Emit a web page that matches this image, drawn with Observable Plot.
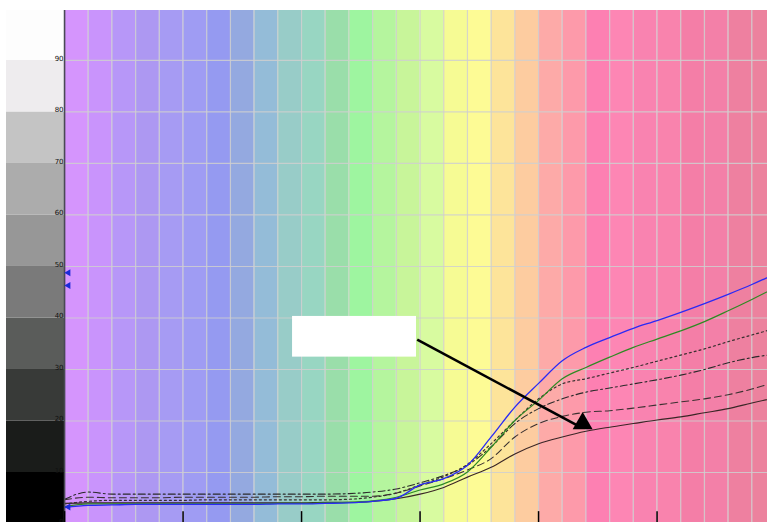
<!DOCTYPE html>
<html><head><meta charset="utf-8">
<script src="https://cdn.jsdelivr.net/npm/d3@7"></script>
<script src="https://cdn.jsdelivr.net/npm/@observablehq/plot@0.6"></script>
<style>html,body{margin:0;padding:0;background:#fff;}svg{display:block;}</style>
</head><body><div id="chart"></div>
<script>
// wavelengths (nm)
const wavelengths = [400,410,420,430,440,450,460,470,480,490,500,510,520,530,540,550,560,570,580,590,600,610,620,630,640,650,660,670,680,690,700];
// spectral band colours (one per 10 nm column)
const bandStarts = [400,410,420,430,440,450,460,470,480,490,500,510,520,530,540,550,560,570,580,590,600,610,620,630,640,650,660,670,680,690];
const bandColors = ["#d595fd","#c994fc","#b797f8","#ad98f2","#a69bf3","#9f9cf3","#959af1","#94a9e0","#94bcd8","#98ccc8","#98d6c2","#9adeaa","#9ef5a0","#b5f59e","#c8f59a","#d8fba0","#f6fb94","#fdfb95","#fde49a","#fdcca0","#fdaaa8","#fd9aaa","#fd80b2","#fd86b4","#f983b0","#f983ad","#f47ea7","#f380a8","#ee80a0","#ec829e"];
// grey reference scale
const greyLevels = [0,10,20,30,40,50,60,70,80,90];
const greyColors = ["#000000","#1a1c1a","#383a38","#5a5c5a","#7a7a7a","#979797","#acacac","#c4c4c4","#eeecee","#fdfdfd"];
// tick labels
const yTicks = [0,10,20,30,40,50,60,70,80,90];
const xTicks = [400,450,500,550,600,650];
// series (reflectance %)
const blue     = [3.2,3.6,3.7,3.8,3.8,3.8,3.8,3.8,3.8,3.9,3.9,4.0,4.1,4.4,5.0,7.6,8.8,11.4,16.9,22.7,27.3,31.7,34.3,36.2,38.0,39.5,41.1,42.8,44.6,46.5,48.6];
const green    = [3.4,3.9,3.9,3.9,3.9,3.9,3.9,3.9,3.9,4.0,4.0,4.1,4.2,4.5,5.2,6.6,7.8,10.1,14.9,20.1,24.0,28.2,30.4,32.4,34.3,35.9,37.5,39.3,41.4,43.6,45.9];
const dotted   = [3.9,4.4,4.6,4.6,4.6,4.6,4.7,4.7,4.7,4.7,4.7,4.7,4.8,5.2,6.0,7.6,9.2,11.6,15.6,20.1,24.3,27.2,28.2,29.3,30.4,31.6,32.8,34.0,35.4,36.7,38.0];
const dashDot  = [4.8,6.2,5.8,5.8,5.8,5.8,5.8,5.8,5.8,5.8,5.8,5.8,5.9,6.2,6.8,8.0,9.4,11.4,15.0,19.5,22.4,24.3,25.6,26.4,27.2,28.0,28.9,30.0,31.3,32.3,33.0];
const dashed   = [4.7,5.2,5.1,5.1,5.1,5.2,5.2,5.2,5.2,5.3,5.3,5.4,5.4,5.4,6.0,7.4,8.8,10.5,12.7,16.9,19.5,20.9,21.7,22.0,22.5,23.1,23.7,24.3,25.1,26.2,27.6];
const solid    = [4.0,4.1,4.1,4.1,4.1,4.1,4.1,4.1,4.1,4.1,4.1,4.2,4.2,4.4,4.9,5.8,7.1,9.1,11.0,13.6,15.6,16.9,18.0,18.8,19.5,20.2,20.8,21.6,22.4,23.5,24.5];
// annotation: empty label box and arrow
const labelBox = [{x1:496.2, x2:548.5, y1:32.4, y2:40.3}];
const arrowLine = [{x1:548.8, y1:35.8, x2:617.7, y2:18.8}];
const arrowHead = [{x:618.6, y:19.5}];
// blue markers on the left axis
const axisMarkers = [{x:401.6, y:48.8},{x:401.6, y:46.3},{x:401.6, y:3.3}];

const xMin = 375.5, xMax = 696.6, yMax = 99.7;
const bands = bandStarts.map((w,i)=>({x1:w, x2:w+10, fill:bandColors[i]}));
const greys = greyLevels.map((g,i)=>({y1:g, y2:Math.min(g+10,yMax), fill:greyColors[i]}));
const mk = arr => wavelengths.map((w,i)=>({w, v:arr[i]}));

const series = [
  {data: mk(solid),   stroke:"#3a2626", dash:null, width:1.1},
  {data: mk(dashed),  stroke:"#3a3030", dash:"7,4", width:1.1},
  {data: mk(dashDot), stroke:"#2a2a2a", dash:"7,3,2,3", width:1.1},
  {data: mk(dotted),  stroke:"#3a3030", dash:"2,3", width:1.2},
  {data: mk(green),   stroke:"#2e8a22", dash:null, width:1.2},
  {data: mk(blue),    stroke:"#2a2af5", dash:null, width:1.3},
];

const chart = Plot.plot({
  width: 767, height: 522,
  margin: 0,
  x: {domain:[xMin, xMax], range:[6, 767], axis:null},
  y: {domain:[0, yMax], range:[523.5, 10], axis:null},
  style: {fontFamily:"DejaVu Sans, sans-serif", background:"#fff"},
  marks: [
    Plot.rect(greys, {x1:()=>xMin, x2:()=>400, y1:"y1", y2:"y2", fill:"fill"}),
    Plot.rect(bands, {x1:"x1", x2:"x2", y1:()=>0, y2:()=>yMax, fill:"fill", clip:true}),
    Plot.ruleX(d3.range(410, 700, 10), {y1:0, y2:yMax, stroke:"#cfcfcf", strokeWidth:1.2, strokeOpacity:0.85, clip:true}),
    Plot.ruleY(d3.range(10, 100, 10), {x1:400, x2:xMax, stroke:"#cfcfcf", strokeWidth:1.2, strokeOpacity:0.85}),
    ...series.map(s => Plot.line(s.data, {x:"w", y:"v", stroke:s.stroke, strokeWidth:s.width, strokeDasharray:s.dash, curve:"monotone-x", clip:true})),
    Plot.rect(labelBox, {x1:"x1", x2:"x2", y1:"y1", y2:"y2", fill:"white"}),
    Plot.link(arrowLine, {x1:"x1", y1:"y1", x2:"x2", y2:"y2", stroke:"black", strokeWidth:2.6}),
    Plot.dot(arrowHead, {x:"x", y:"y", symbol:"triangle", r:7.4, fill:"black", stroke:"none"}),
    Plot.ruleX([400], {y1:0, y2:yMax, stroke:"#4a4a55", strokeWidth:1.6}),
    Plot.ruleX(xTicks, {y1:0, y2:2.4, stroke:"black", strokeWidth:1.5}),
    Plot.dot(axisMarkers, {x:"x", y:"y", symbol:"triangle", rotate:-90, r:2.6, fill:"#1a2ad8", stroke:"none"}),
    Plot.text(yTicks, {x:()=>400, y:d=>d, text:d=>String(d), dx:-1, dy:-2, textAnchor:"end", fontSize:7, fill:"#111"})
  ]
});
document.getElementById("chart").appendChild(chart);
</script>
</body></html>
